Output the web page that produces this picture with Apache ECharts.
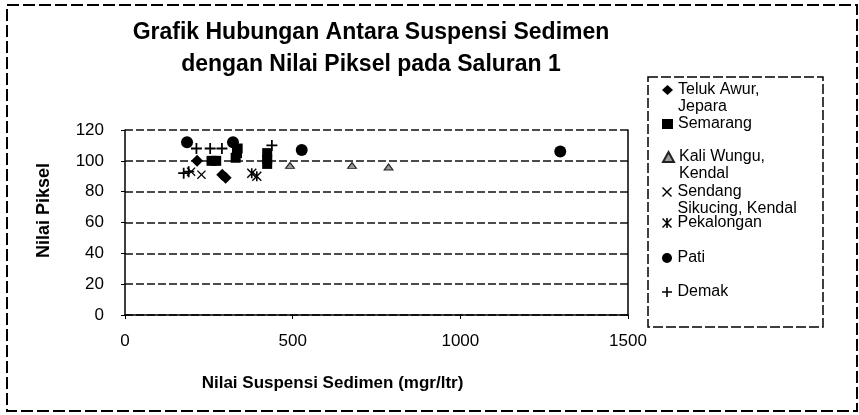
<!DOCTYPE html>
<html><head><meta charset="utf-8">
<script src="https://cdn.jsdelivr.net/npm/echarts@6/dist/echarts.min.js"></script>
<style>html,body{margin:0;padding:0;background:#fff}#c{width:859px;height:415px}</style>
</head><body><div id="c"></div>
<script>
// ---- data ----
const titleLines = ['Grafik Hubungan Antara Suspensi Sedimen', 'dengan Nilai Piksel pada Saluran 1'];
const xAxisTitle = 'Nilai Suspensi Sedimen (mgr/ltr)';
const yAxisTitle = 'Nilai Piksel';
const xTicks = [0, 500, 1000, 1500];
const yTicks = [0, 20, 40, 60, 80, 100, 120];
const seriesNames = ['Teluk Awur,\nJepara', 'Semarang', 'Kali Wungu,\nKendal', 'Sendang\nSikucing, Kendal', 'Pekalongan', 'Pati', 'Demak'];
const telukAwur = [[215, 100], [290, 91], [300, 89]];
const semarang = [[258, 100], [272, 100], [330, 102], [334, 105], [336, 108], [424, 105], [424, 101], [424, 98]];
const kaliWungu = [[492, 97], [677, 97], [786, 96]];
const sendang = [[197, 93], [228, 91]];
const pekalongan = [[378, 92], [393, 90]];
const pati = [[185, 112], [322, 112], [527, 107], [1298, 106]];
const demak = [[175, 92], [190, 93], [213, 108], [254, 108], [289, 108], [438, 110]];
const seriesData = [telukAwur, semarang, kaliWungu, sendang, pekalongan, pati, demak];

// ---- styles ----
const FONT = '"Liberation Sans", Arial, sans-serif';
const xPath = 'path://M1,0L5,4L9,0L10,1L6,5L10,9L9,10L5,6L1,10L0,9L4,5L0,1Z';
const plusPath = 'path://M4.2,0H5.8V4.2H10V5.8H5.8V10H4.2V5.8H0V4.2H4.2Z';
const starPath = 'path://M1,0L5,4L9,0L10,1L6,5L10,9L9,10L5,6L1,10L0,9L4,5L0,1Z M4.2,0H5.8V10H4.2Z';
const symbols = [
  {symbol: 'diamond', size: 12, color: '#000'},
  {symbol: 'rect', size: [10, 10], color: '#000'},
  {symbol: 'triangle', size: [9, 6], color: '#999', border: '#222'},
  {symbol: xPath, size: 9, color: '#000'},
  {symbol: starPath, size: 10, color: '#000'},
  {symbol: 'circle', size: 12, color: '#000'},
  {symbol: plusPath, size: 11, color: '#000'}
];
const legendY = [90, 124, 157, 192, 223, 258, 292];
const LH = 17;

const chart = echarts.init(document.getElementById('c'), null, {renderer: 'canvas'});

const series = seriesNames.map((n, i) => ({
  name: n,
  type: 'scatter',
  data: seriesData[i],
  symbol: symbols[i].symbol,
  symbolSize: symbols[i].size,
  itemStyle: {color: symbols[i].color, borderColor: symbols[i].border || null, borderWidth: symbols[i].border ? 1 : 0, opacity: 1},
  emphasis: {disabled: true},
  z: 3
}));

const legends = seriesNames.map((n, i) => {
  const lines = n.split('\n').length;
  const h = lines === 2 ? 3 * LH : LH;
  return {
    data: [n],
    orient: 'vertical',
    left: 662,
    top: legendY[i] - h / 2,
    itemWidth: 11,
    itemHeight: 10,
    padding: 0,
    selectedMode: false,
    formatter: name => (name.indexOf('\n') >= 0 ? '\u00a0\n' + name : name),
    textStyle: {fontFamily: FONT, fontSize: 16, lineHeight: LH, color: '#000'}
  };
});

const option = {
  animation: false,
  backgroundColor: '#fff',
  textStyle: {fontFamily: FONT, color: '#000'},
  title: {
    text: titleLines.join('\n'),
    left: 371,
    top: 17,
    textAlign: 'center',
    padding: 0,
    textStyle: {fontFamily: FONT, fontWeight: 'bold', fontSize: 23, lineHeight: 32, color: '#000'}
  },
  legend: legends,
  grid: {left: 125, right: 231, top: 130, bottom: 100, containLabel: false},
  xAxis: {
    type: 'value', min: xTicks[0], max: xTicks[xTicks.length - 1], interval: 500,
    name: xAxisTitle, nameLocation: 'middle', nameGap: 60,
    nameTextStyle: {fontFamily: FONT, fontWeight: 'bold', fontSize: 17, color: '#000', padding: [0, 88, 0, 0]},
    axisLine: {show: true, lineStyle: {color: '#000', width: 1.5}},
    axisTick: {show: true, length: 4, lineStyle: {color: '#000'}},
    axisLabel: {fontFamily: FONT, fontSize: 17, color: '#000', margin: 18, formatter: v => String(v)},
    splitLine: {show: false}
  },
  yAxis: [{
    type: 'value', min: yTicks[0], max: yTicks[yTicks.length - 1], interval: 20,
    name: yAxisTitle, nameLocation: 'middle', nameGap: 72,
    nameTextStyle: {fontFamily: FONT, fontWeight: 'bold', fontSize: 18, color: '#000', padding: [0, 0, 0, 24]},
    axisLine: {show: true, lineStyle: {color: '#000', width: 1.5}},
    axisTick: {show: true, length: 4, lineStyle: {color: '#000'}},
    axisLabel: {fontFamily: FONT, fontSize: 17, color: '#000', margin: 21, formatter: v => String(v)},
    splitLine: {show: true, lineStyle: {color: '#111', width: 1.5, type: [8, 3]}}
  }, {
    type: 'value', min: yTicks[0], max: yTicks[yTicks.length - 1], interval: 20, position: 'right',
    axisLine: {show: true, lineStyle: {color: '#000', width: 1.5}},
    axisTick: {show: false}, axisLabel: {show: false}, splitLine: {show: false}
  }],
  graphic: [
    {type: 'rect', shape: {x: 7, y: 5, width: 850, height: 406}, style: {fill: 'none', stroke: '#000', lineWidth: 2, lineDash: [12, 4]}, silent: true, z: -1},
    {type: 'rect', shape: {x: 648, y: 77, width: 175, height: 250}, style: {fill: 'none', stroke: '#000', lineWidth: 1.5, lineDash: [10, 3]}, silent: true, z: -1}
  ],
  series: series
};
chart.setOption(option);
</script>
</body></html>
